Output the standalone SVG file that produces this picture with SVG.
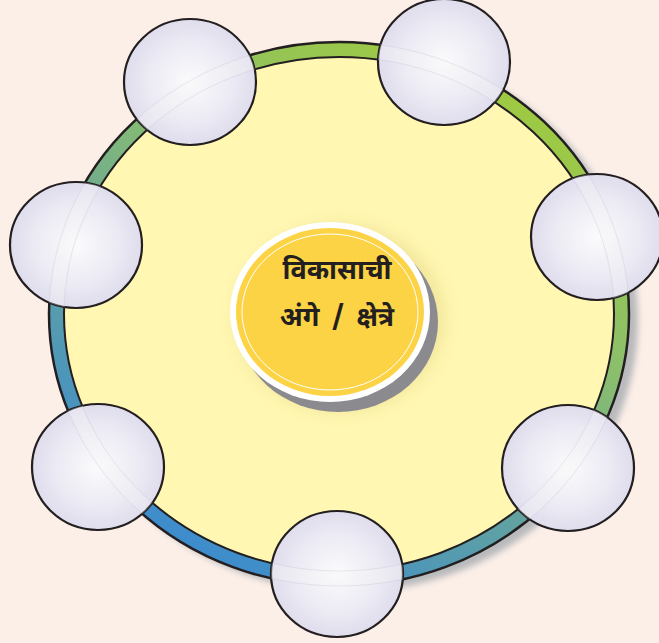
<svg xmlns="http://www.w3.org/2000/svg" width="659" height="643" viewBox="0 0 659 643">
<defs>
<linearGradient id="ringGrad" gradientUnits="userSpaceOnUse" x1="500" y1="60" x2="200" y2="570">
<stop offset="0" stop-color="#a0cb3c"/>
<stop offset="0.35" stop-color="#8cbf6c"/>
<stop offset="0.65" stop-color="#62a3a0"/>
<stop offset="1" stop-color="#3a8ad0"/>
</linearGradient>
<radialGradient id="bubbleGrad" cx="0.5" cy="0.5" r="0.55">
<stop offset="0" stop-color="#fbfbfc"/>
<stop offset="0.6" stop-color="#ebe9f3"/>
<stop offset="1" stop-color="#dcd9eb"/>
</radialGradient>
<filter id="blur4" x="-20%" y="-20%" width="140%" height="140%"><feGaussianBlur stdDeviation="3"/></filter>
<filter id="blur8" x="-30%" y="-30%" width="160%" height="160%"><feGaussianBlur stdDeviation="8"/></filter>
<clipPath id="bubbleClip">
<ellipse cx="190" cy="82" rx="66" ry="63"/>
<ellipse cx="444" cy="62" rx="66" ry="63"/>
<ellipse cx="597" cy="237" rx="66" ry="63"/>
<ellipse cx="76" cy="245" rx="66" ry="63"/>
<ellipse cx="568" cy="468" rx="66" ry="63"/>
<ellipse cx="98" cy="467" rx="66" ry="63"/>
<ellipse cx="337" cy="574" rx="66" ry="63"/>
</clipPath>
<style>
.bubble{fill:url(#bubbleGrad);stroke:#231f20;stroke-width:2.2}
.label{font-family:"Noto Sans Devanagari","Noto Sans","Lohit Devanagari",sans-serif;font-weight:bold;font-size:27px;fill:#231f20;text-anchor:middle}
</style>
</defs>
<rect width="659" height="643" fill="#fcefe8"/>
<g id="ring">
<ellipse cx="348" cy="320" rx="290" ry="272" fill="#b8b9bc" filter="url(#blur4)"/>
<ellipse cx="339" cy="314" rx="290" ry="272" fill="url(#ringGrad)" stroke="#231f20" stroke-width="2.5"/>
<ellipse cx="339" cy="314" rx="275" ry="257" fill="#fff7b2" stroke="#231f20" stroke-width="2"/>
</g>
<g id="center">
<ellipse cx="340" cy="318" rx="104" ry="94" fill="#e8d98a" opacity="0.6" filter="url(#blur8)"/>
<ellipse cx="338" cy="322" rx="100" ry="90" fill="#8a8a8f"/>
<ellipse cx="330" cy="312" rx="100" ry="90" fill="#ffffff"/>
<ellipse cx="330" cy="312" rx="94" ry="84" fill="#fcd345"/>
<ellipse cx="330" cy="312" rx="88" ry="78" fill="none" stroke="#ffffff" stroke-width="1"/>
<text class="label" x="337" y="279">विकासाची</text>
<text class="label" x="337" y="326" word-spacing="5">अंगे / क्षेत्रे</text>
</g>
<g id="bubbles">
<g id="bubble1"><ellipse class="bubble" cx="190" cy="82" rx="66" ry="63"/></g>
<g id="bubble2"><ellipse class="bubble" cx="444" cy="62" rx="66" ry="63"/></g>
<g id="bubble3"><ellipse class="bubble" cx="597" cy="237" rx="66" ry="63"/></g>
<g id="bubble4"><ellipse class="bubble" cx="76" cy="245" rx="66" ry="63"/></g>
<g id="bubble5"><ellipse class="bubble" cx="568" cy="468" rx="66" ry="63"/></g>
<g id="bubble6"><ellipse class="bubble" cx="98" cy="467" rx="66" ry="63"/></g>
<g id="bubble7"><ellipse class="bubble" cx="337" cy="574" rx="66" ry="63"/></g>
</g>
<g id="ringThrough" clip-path="url(#bubbleClip)" fill="none">
<ellipse cx="339" cy="314" rx="282.5" ry="264.5" stroke="#f4f6f4" stroke-width="14" opacity="0.3"/>
<ellipse cx="339" cy="314" rx="290" ry="272" stroke="#cfcedb" stroke-width="1" opacity="0.45"/>
<ellipse cx="339" cy="314" rx="275" ry="257" stroke="#cfcedb" stroke-width="1" opacity="0.45"/>
</g>
</svg>
